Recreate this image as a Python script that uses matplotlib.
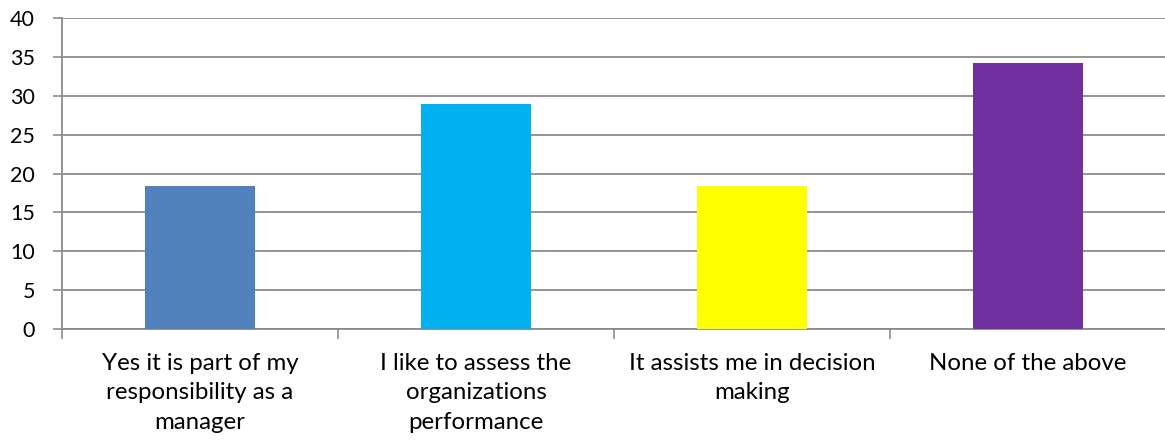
import matplotlib.pyplot as plt
import numpy as np

categories = ["Yes it is part of my\nresponsibility as a\nmanager",
              "I like to assess the\norganizations\nperformance",
              "It assists me in decision\nmaking",
              "None of the above"]
values = [18.42, 28.95, 18.42, 34.21]
colors = ["#4F81BD", "#00B0F0", "#FFFF00", "#7030A0"]

plt.rcParams['font.family'] = ['Lato', 'DejaVu Sans']

fig = plt.figure(figsize=(11.65, 4.43), dpi=100)
ax = fig.add_axes([62/1165, 114/443, 1104/1165, 311/443])

x = np.arange(len(categories))
ax.bar(x, values, width=0.40, color=colors, zorder=3)

ax.set_xlim(-0.5, len(categories) - 0.5)
ax.set_ylim(0, 40)
ax.set_yticks(range(0, 41, 5))
ax.yaxis.grid(True, color="#8c8c8c", linewidth=1.3, zorder=0)

ax.set_xticks(x)
ax.set_xticklabels(categories, fontsize=17.3, linespacing=1.5, color="#000000")
ax.set_xticks(np.arange(-0.5, len(categories)), minor=True)
ax.tick_params(axis='x', which='major', length=0, pad=17)
ax.tick_params(axis='x', which='minor', length=7, width=1.2, color="#8c8c8c")
ax.tick_params(axis='y', length=6.5, width=1.2, color="#8c8c8c", labelsize=15.5, pad=13)

for side in ["top", "right"]:
    ax.spines[side].set_visible(False)
for side in ["left", "bottom"]:
    ax.spines[side].set_color("#8c8c8c")
    ax.spines[side].set_linewidth(1.3)

fig.savefig("out.png", dpi=100)
